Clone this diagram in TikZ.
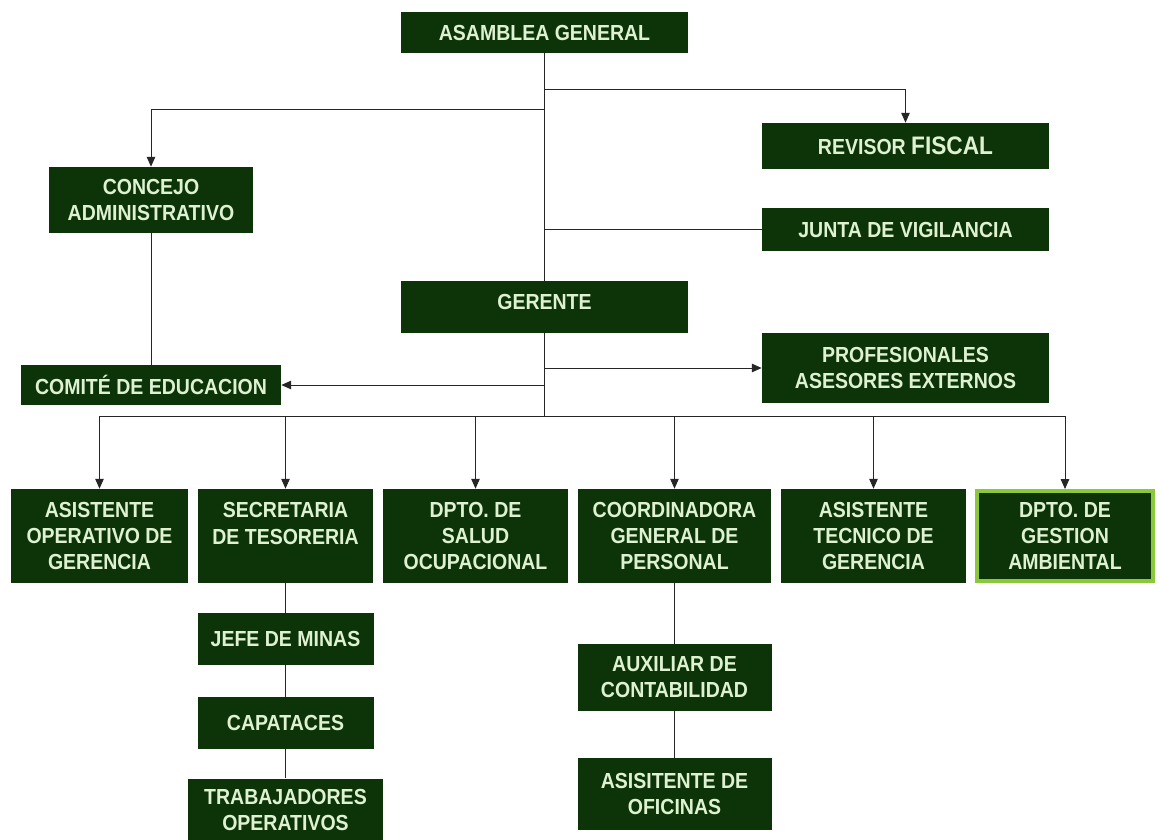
\documentclass[tikz,border=0pt]{standalone}
\usepackage{fontspec}
\setmainfont{Liberation Sans}[FakeStretch=0.895]
\usetikzlibrary{arrows.meta}

\definecolor{boxgreen}{RGB}{12,52,8}
\definecolor{boxtext}{RGB}{222,242,210}
\definecolor{edgegreen}{RGB}{140,200,60}
\def\px{0.025cm}

\tikzset{
    box/.style={fill=boxgreen, text=boxtext, align=center, inner sep=0pt,
        font=\fontsize{15.5}{18.6}\selectfont\bfseries},
    size/.style 2 args={minimum width=#1*\px, minimum height=#2*\px},
    link/.style={draw=black!85, line width=0.7pt},
    arrow/.style={link, -{Triangle[length=7pt, width=6pt]}}
}

\begin{document}
\begin{tikzpicture}[x=\px, y=-\px]
    \useasboundingbox (0,0) rectangle (1160,840);
    \fill[white] (0,0) rectangle (1160,840);

    % Draw upper boxes
    \node[box, size={287}{41}] (asamblea) at (544.5,32.5) {ASAMBLEA GENERAL};
    \node[box, size={287}{46}] (revisor) at (905.5,146) {REVISOR {\fontsize{18}{18}\selectfont FISCAL}};
    \node[box, size={204}{66}] (concejo) at (151,200) {CONCEJO\\ADMINISTRATIVO};
    \node[box, size={287}{43}] (junta) at (905.5,229.5) {JUNTA DE VIGILANCIA};
    \node[box, size={287}{52}, text depth=7pt] (gerente) at (544.5,307) {GERENTE};
    \node[box, size={260}{40}] (comite) at (151,385) {COMITÉ DE EDUCACION};
    \node[box, size={287}{70}] (profes) at (905.5,368) {PROFESIONALES\\ASESORES EXTERNOS};

    % Draw row of departments, all at the same height
    \def\rowy{536}
    \node[box, size={177}{94}] (asisop) at (99.5,\rowy) {ASISTENTE\\OPERATIVO DE\\GERENCIA};
    \node[box, size={175}{94}, text depth=18pt] (secret) at (285.5,\rowy) {SECRETARIA\\DE TESORERIA};
    \node[box, size={185}{94}] (salud) at (475.5,\rowy) {DPTO. DE\\SALUD\\OCUPACIONAL};
    \node[box, size={193}{94}] (coord) at (674.5,\rowy) {COORDINADORA\\GENERAL DE\\PERSONAL};
    \node[box, size={185}{94}] (tecnico) at (873.5,\rowy) {ASISTENTE\\TECNICO DE\\GERENCIA};
    \node[box, size={176}{90}, draw=edgegreen, line width=2.8pt] (gestion) at (1065,\rowy) {DPTO. DE\\GESTION\\AMBIENTAL};

    % Draw the two lower columns
    \node[box, size={176}{52}] (jefe) at (285.5,639) {JEFE DE MINAS};
    \node[box, size={176}{52}] (capataces) at (285.5,723) {CAPATACES};
    \node[box, size={195}{63}] (trabaj) at (285.5,810) {TRABAJADORES\\OPERATIVOS};
    \node[box, size={194}{67}] (auxiliar) at (674.5,677.5) {AUXILIAR DE\\CONTABILIDAD};
    \node[box, size={194}{72}] (asisitente) at (674.5,794) {ASISITENTE DE\\OFICINAS};

    % Draw links
    \coordinate (toRevisor) at (544.5,89);
    \coordinate (toConcejo) at (544.5,109);
    \coordinate (bus) at (544.5,416);
    \draw[link] (asamblea) -- (gerente);
    \draw[link] (gerente) -- (bus);
    \draw[arrow] (toRevisor) -| (revisor);
    \draw[arrow] (toConcejo) -| (concejo);
    \draw[link] (junta.west -| gerente) -- (junta);
    \draw[arrow] (profes.west -| gerente) -- (profes);
    \draw[arrow] (comite.east -| gerente) -- (comite);
    \draw[link] (concejo) -- (comite);
    \draw[link] (asisop.north |- bus) -- (gestion.north |- bus);
    \foreach \n in {asisop, secret, salud, coord, tecnico, gestion} {
        \draw[arrow] (\n.north |- bus) -- (\n.north);
    }
    \draw[link] (secret) -- (jefe) -- (capataces) -- (trabaj);
    \draw[link] (coord) -- (auxiliar) -- (asisitente);
\end{tikzpicture}
\end{document}
